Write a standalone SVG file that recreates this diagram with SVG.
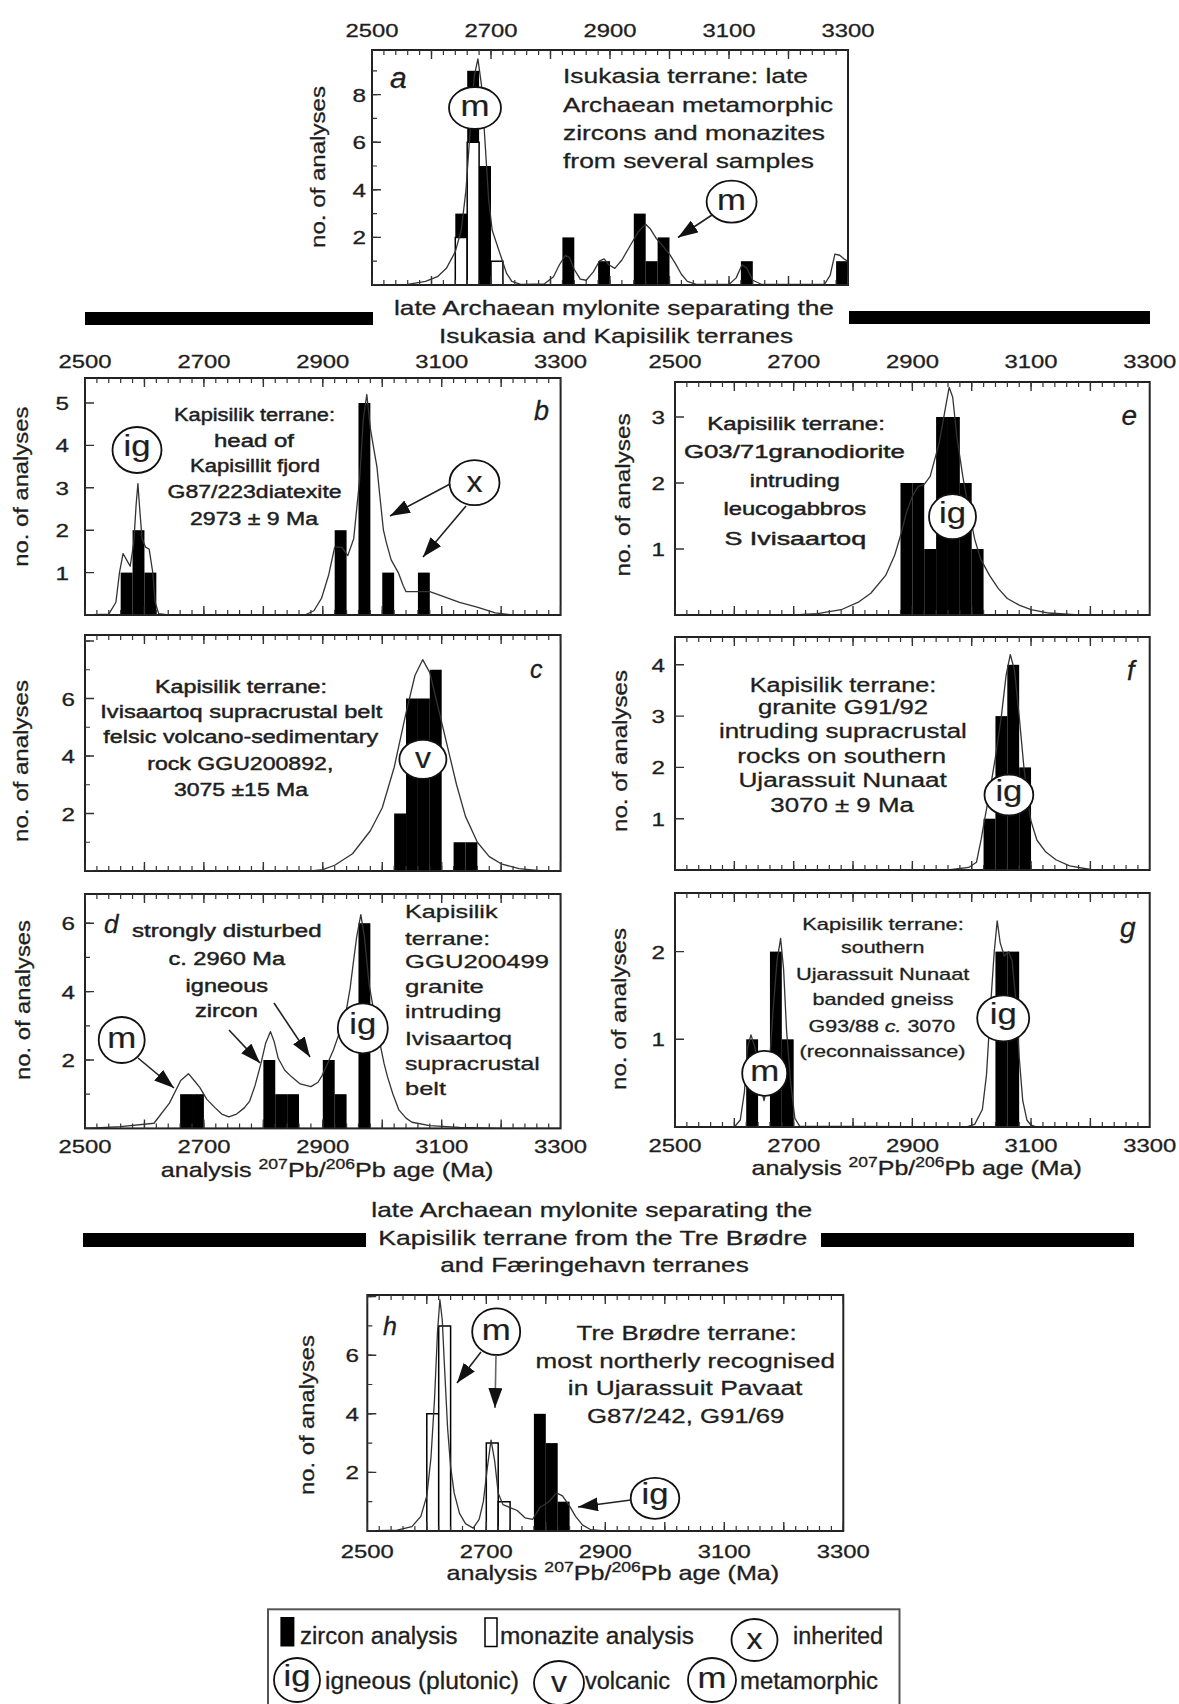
<svg xmlns="http://www.w3.org/2000/svg" width="1179" height="1704" viewBox="0 0 1179 1704">
<style>
.t{font-family:"Liberation Sans",Arial,Helvetica,sans-serif;fill:#1e1e1e;stroke:#1e1e1e;stroke-width:0.3px}
.tk{font-size:19px}
.lb{font-size:18px;stroke-width:0.45px}
.it{font-style:italic}
.fr{fill:none;stroke:#222;stroke-width:2}
.mt{stroke:#333;fill:none}
.zb{fill:#000}
.mb{fill:#fff;stroke:#000;stroke-width:1.5px;vector-effect:non-scaling-stroke}
.cv{fill:none;stroke:#333;stroke-width:1.3px;vector-effect:non-scaling-stroke;stroke-linejoin:round}
.ci{fill:#fff;stroke:#111;stroke-width:1.8}
.cl{font-size:30px;stroke-width:0.2px}
.ar{stroke:#222;stroke-width:1.6;fill:none;marker-end:url(#ah)}
.band{fill:#000}
</style>
<defs>
<marker id="ah" markerWidth="20" markerHeight="14" refX="20" refY="7" orient="auto" markerUnits="userSpaceOnUse"><path d="M0,0 L20,7 L0,14 z" fill="#111"/></marker>
</defs>
<rect width="1179" height="1704" fill="#fff"/>

<!-- ===== Panel a ===== -->
<g id="panel-a">
<g transform="translate(372,285) scale(0.595,-23.8)">
<rect class="mb" x="140" y="0" width="20" height="2"/><rect class="mb" x="160" y="0" width="20" height="6"/><rect class="mb" x="200" y="0" width="20" height="1"/>
<rect class="zb" x="140" y="2" width="20" height="1"/><rect class="zb" x="160" y="6" width="20" height="3"/><rect class="zb" x="180" y="0" width="20" height="5"/>
<rect class="zb" x="320" y="0" width="20" height="2"/><rect class="zb" x="380" y="0" width="20" height="1"/><rect class="zb" x="440" y="0" width="20" height="3"/><rect class="zb" x="460" y="0" width="20" height="1"/><rect class="zb" x="480" y="0" width="20" height="2"/><rect class="zb" x="620" y="0" width="20" height="1"/><rect class="zb" x="780" y="0" width="20" height="1"/>
<polyline class="cv" points="0,0 60,0.03 90,0.15 110,0.35 125,0.7 140,1.4 150,2.3 158,4 165,6.5 172,8.8 178,9.5 184,8.4 190,6 196,3.6 202,2.3 210,1.7 218,1.1 226,0.5 235,0.15 250,0.03 290,0.05 305,0.35 315,0.85 325,1.25 332,1.15 340,0.65 350,0.25 360,0.2 372,0.55 382,1 390,1.1 398,0.85 408,0.7 420,1.05 435,1.7 448,2.25 460,2.55 468,2.35 478,1.95 490,1.6 500,1.3 510,0.9 520,0.45 530,0.15 545,0.03 600,0.02 612,0.3 622,0.85 630,0.7 640,0.2 655,0.02 760,0.02 770,0.4 778,1.3 786,1.25 793,1.1 800,1"/>
</g>
<rect class="fr" x="372" y="50" width="476" height="235"/>
<line class="mt" x1="372" y1="52.5" x2="848" y2="52.5" stroke-width="5" stroke-dasharray="1.2 10.7" stroke-dashoffset="0.6"/>
<line class="mt" x1="372" y1="54.5" x2="848" y2="54.5" stroke-width="9" stroke-dasharray="1.4 58.1" stroke-dashoffset="0.7"/>
<line class="mt" x1="372" y1="282.5" x2="848" y2="282.5" stroke-width="5" stroke-dasharray="1.2 10.7" stroke-dashoffset="0.6"/>
<line class="mt" x1="372" y1="280.5" x2="848" y2="280.5" stroke-width="9" stroke-dasharray="1.4 58.1" stroke-dashoffset="0.7"/>
<line class="mt" x1="374.5" y1="285" x2="374.5" y2="50" stroke-width="5" stroke-dasharray="1.2 22.6" stroke-dashoffset="0.6"/>
<line class="mt" x1="376.5" y1="285" x2="376.5" y2="50" stroke-width="9" stroke-dasharray="1.4 46.2" stroke-dashoffset="0.7"/>
<g class="t tk">
<text x="345.5" y="37" textLength="53" lengthAdjust="spacingAndGlyphs">2500</text>
<text x="464.5" y="37" textLength="53" lengthAdjust="spacingAndGlyphs">2700</text>
<text x="583.5" y="37" textLength="53" lengthAdjust="spacingAndGlyphs">2900</text>
<text x="702.5" y="37" textLength="53" lengthAdjust="spacingAndGlyphs">3100</text>
<text x="821.5" y="37" textLength="53" lengthAdjust="spacingAndGlyphs">3300</text>
<text x="352.5" y="244.4" textLength="13.5" lengthAdjust="spacingAndGlyphs">2</text>
<text x="352.5" y="196.8" textLength="13.5" lengthAdjust="spacingAndGlyphs">4</text>
<text x="352.5" y="149.2" textLength="13.5" lengthAdjust="spacingAndGlyphs">6</text>
<text x="352.5" y="101.6" textLength="13.5" lengthAdjust="spacingAndGlyphs">8</text>
</g>
<text class="t" font-size="21" transform="translate(325,167) rotate(-90)" x="-81" textLength="162" lengthAdjust="spacingAndGlyphs">no. of analyses</text>
<text class="t it" font-size="30" x="390" y="88">a</text>
<g class="t" font-size="21">
<text x="563" y="83" textLength="245" lengthAdjust="spacingAndGlyphs">Isukasia terrane: late</text>
<text x="563" y="111.7" textLength="270" lengthAdjust="spacingAndGlyphs">Archaean metamorphic</text>
<text x="563" y="140" textLength="262" lengthAdjust="spacingAndGlyphs">zircons and monazites</text>
<text x="563" y="168.3" textLength="251" lengthAdjust="spacingAndGlyphs">from several samples</text>
</g>
<g id="a-m1"><ellipse class="ci" cx="475" cy="108" rx="26" ry="21"/><text class="t cl" x="460.5" y="116" textLength="29" lengthAdjust="spacingAndGlyphs">m</text></g>
<g id="a-m2"><ellipse class="ci" cx="731.6" cy="201.7" rx="25" ry="21"/><text class="t cl" x="717.1" y="209.7" textLength="29" lengthAdjust="spacingAndGlyphs">m</text></g>
</g>

<!-- ===== Mylonite band 1 ===== -->
<g id="mylonite-1">
<rect class="band" x="85" y="312" width="288" height="13"/>
<rect class="band" x="849" y="311" width="301" height="13"/>
<text class="t" font-size="21" x="394" y="315" textLength="440" lengthAdjust="spacingAndGlyphs">late Archaean mylonite separating the</text>
<text class="t" font-size="21" x="439" y="343" textLength="354" lengthAdjust="spacingAndGlyphs">Isukasia and Kapisilik terranes</text>
</g>

<!-- ===== Panel b ===== -->
<g id="panel-b">
<g transform="translate(85,615) scale(0.5945,-42.4)">
<rect class="zb" x="60" y="0" width="20" height="1"/><rect class="zb" x="80" y="0" width="20" height="2"/><rect class="zb" x="100" y="0" width="20" height="1"/>
<rect class="zb" x="420" y="0" width="20" height="2"/><rect class="zb" x="460" y="0" width="20" height="5"/><rect class="zb" x="500" y="0" width="20" height="1"/><rect class="zb" x="560" y="0" width="20" height="1"/>
<polyline class="cv" points="0,0 40,0.02 52,0.3 58,1 64,1.45 70,1.3 76,1.15 82,1.7 86,2.6 89,3.1 92,2.5 96,1.8 102,1.6 108,1.55 114,1 118,0.3 124,0.03 140,0 370,0 385,0.1 398,0.4 410,0.95 420,1.6 432,1.6 442,1.4 452,1.8 462,3.2 468,4.6 474,5.2 480,4.4 486,3.9 491,3.5 496,2.8 502,2 507,1.7 515,1.3 527,1 535,0.7 540,0.55 580,0.55 600,0.45 630,0.3 661,0.18 690,0.05 720,0 800,0"/>
</g>
<rect class="fr" x="85" y="378" width="475.6" height="237"/>
<line class="mt" x1="85" y1="380.5" x2="560.6" y2="380.5" stroke-width="5" stroke-dasharray="1.2 10.69" stroke-dashoffset="0.6"/>
<line class="mt" x1="85" y1="382.5" x2="560.6" y2="382.5" stroke-width="9" stroke-dasharray="1.4 58.05" stroke-dashoffset="0.7"/>
<line class="mt" x1="85" y1="612.5" x2="560.6" y2="612.5" stroke-width="5" stroke-dasharray="1.2 10.69" stroke-dashoffset="0.6"/>
<line class="mt" x1="85" y1="610.5" x2="560.6" y2="610.5" stroke-width="9" stroke-dasharray="1.4 58.05" stroke-dashoffset="0.7"/>
<line class="mt" x1="89.5" y1="615" x2="89.5" y2="378" stroke-width="9" stroke-dasharray="1.4 41" stroke-dashoffset="0.7"/>
<g class="t tk">
<text x="58.5" y="368" textLength="53" lengthAdjust="spacingAndGlyphs">2500</text>
<text x="177.4" y="368" textLength="53" lengthAdjust="spacingAndGlyphs">2700</text>
<text x="296.3" y="368" textLength="53" lengthAdjust="spacingAndGlyphs">2900</text>
<text x="415.2" y="368" textLength="53" lengthAdjust="spacingAndGlyphs">3100</text>
<text x="534.1" y="368" textLength="53" lengthAdjust="spacingAndGlyphs">3300</text>
<text x="55.5" y="579.6" textLength="13.5" lengthAdjust="spacingAndGlyphs">1</text>
<text x="55.5" y="537.2" textLength="13.5" lengthAdjust="spacingAndGlyphs">2</text>
<text x="55.5" y="494.8" textLength="13.5" lengthAdjust="spacingAndGlyphs">3</text>
<text x="55.5" y="452.4" textLength="13.5" lengthAdjust="spacingAndGlyphs">4</text>
<text x="55.5" y="410" textLength="13.5" lengthAdjust="spacingAndGlyphs">5</text>
</g>
<text class="t" font-size="21" transform="translate(27.5,486.7) rotate(-90)" x="-80" textLength="160" lengthAdjust="spacingAndGlyphs">no. of analyses</text>
<text class="t it" font-size="27" x="534" y="420">b</text>
<g class="t lb">
<text x="174" y="420.7" textLength="161" lengthAdjust="spacingAndGlyphs">Kapisilik terrane:</text>
<text x="214" y="446.7" textLength="80" lengthAdjust="spacingAndGlyphs">head of</text>
<text x="190" y="472" textLength="130" lengthAdjust="spacingAndGlyphs">Kapisillit fjord</text>
<text x="167.6" y="498.3" textLength="174" lengthAdjust="spacingAndGlyphs">G87/223diatexite</text>
<text x="190" y="525" textLength="128" lengthAdjust="spacingAndGlyphs">2973 ± 9 Ma</text>
</g>
<g id="b-ig"><ellipse class="ci" cx="137" cy="450" rx="24.5" ry="23"/><text class="t cl" x="123.5" y="456" textLength="27" lengthAdjust="spacingAndGlyphs">ig</text></g>
<g id="b-x"><ellipse class="ci" cx="474.5" cy="482.7" rx="25" ry="22.5"/><text class="t cl" x="466.5" y="491.7" textLength="16" lengthAdjust="spacingAndGlyphs">x</text></g>
</g>

<!-- ===== Panel c ===== -->
<g id="panel-c">
<g transform="translate(85,871) scale(0.5945,-28.75)">
<rect class="zb" x="520" y="0" width="20" height="2"/><rect class="zb" x="540" y="0" width="20" height="6"/><rect class="zb" x="560" y="0" width="20" height="6"/><rect class="zb" x="580" y="0" width="20" height="7"/><rect class="zb" x="620" y="0" width="20" height="1"/><rect class="zb" x="640" y="0" width="20" height="1"/>
<polyline class="cv" points="0,0 380,0 400,0.05 420,0.2 450,0.6 480,1.4 500,2.2 520,3.6 540,5.5 555,6.8 568,7.35 580,6.9 595,5.6 610,4.3 625,3 640,1.9 660,1 680,0.5 700,0.25 730,0.08 770,0 800,0"/>
</g>
<rect class="fr" x="85" y="635" width="475.6" height="236"/>
<line class="mt" x1="85" y1="637.5" x2="560.6" y2="637.5" stroke-width="5" stroke-dasharray="1.2 10.69" stroke-dashoffset="0.6"/>
<line class="mt" x1="85" y1="639.5" x2="560.6" y2="639.5" stroke-width="9" stroke-dasharray="1.4 58.05" stroke-dashoffset="0.7"/>
<line class="mt" x1="85" y1="868.5" x2="560.6" y2="868.5" stroke-width="5" stroke-dasharray="1.2 10.69" stroke-dashoffset="0.6"/>
<line class="mt" x1="85" y1="866.5" x2="560.6" y2="866.5" stroke-width="9" stroke-dasharray="1.4 58.05" stroke-dashoffset="0.7"/>
<line class="mt" x1="87.5" y1="871" x2="87.5" y2="635" stroke-width="5" stroke-dasharray="1.2 27.55" stroke-dashoffset="0.6"/>
<line class="mt" x1="89.5" y1="871" x2="89.5" y2="635" stroke-width="9" stroke-dasharray="1.4 56.1" stroke-dashoffset="0.7"/>
<g class="t tk">
<text x="61.5" y="820.5" textLength="13.5" lengthAdjust="spacingAndGlyphs">2</text>
<text x="61.5" y="763" textLength="13.5" lengthAdjust="spacingAndGlyphs">4</text>
<text x="61.5" y="705.5" textLength="13.5" lengthAdjust="spacingAndGlyphs">6</text>
</g>
<text class="t" font-size="21" transform="translate(27.5,761) rotate(-90)" x="-81" textLength="162" lengthAdjust="spacingAndGlyphs">no. of analyses</text>
<text class="t it" font-size="25" x="530" y="678">c</text>
<g class="t lb">
<text x="155" y="693.3" textLength="172" lengthAdjust="spacingAndGlyphs">Kapisilik terrane:</text>
<text x="100.3" y="718.3" textLength="282" lengthAdjust="spacingAndGlyphs">Ivisaartoq supracrustal belt</text>
<text x="103.3" y="742.7" textLength="275" lengthAdjust="spacingAndGlyphs">felsic volcano-sedimentary</text>
<text x="147.3" y="769.7" textLength="186" lengthAdjust="spacingAndGlyphs">rock GGU200892,</text>
<text x="174" y="796" textLength="134" lengthAdjust="spacingAndGlyphs">3075 ±15 Ma</text>
</g>
<g id="c-v"><ellipse class="ci" cx="422.9" cy="759.3" rx="23.5" ry="19.5"/><text class="t cl" x="414.9" y="767.8" textLength="16" lengthAdjust="spacingAndGlyphs">v</text></g>
</g>

<!-- ===== Panel d ===== -->
<g id="panel-d">
<g transform="translate(85,1128.4) scale(0.5945,-34.2)">
<rect class="zb" x="160" y="0" width="20" height="1"/><rect class="zb" x="180" y="0" width="20" height="1"/><rect class="zb" x="300" y="0" width="20" height="2"/><rect class="zb" x="320" y="0" width="20" height="1"/><rect class="zb" x="340" y="0" width="20" height="1"/><rect class="zb" x="400" y="0" width="20" height="2"/><rect class="zb" x="420" y="0" width="20" height="1"/><rect class="zb" x="460" y="0" width="20" height="6"/>
<polyline class="cv" points="0,0 60,0.05 116,0.15 142,0.74 161,1.4 174,1.6 186,1.35 193,1.2 205,0.85 219,0.6 230,0.42 242,0.34 255,0.42 268,0.6 277,0.8 286,1.25 296,1.9 304,2.5 312,2.83 318,2.55 325,2.05 336,1.7 348,1.5 362,1.3 380,1.22 392,1.35 399,1.55 408,1.9 418,2.3 428,2.8 438,3.3 446,4.1 451,4.8 457,5.6 464,6.25 470,5.6 478,4.2 488,3.2 496,2.5 503,1.9 509,1.5 518,1 528,0.54 540,0.3 550,0.18 580,0.08 630,0.03 700,0 800,0"/>
</g>
<rect class="fr" x="85" y="894" width="475.6" height="234.4"/>
<line class="mt" x1="85" y1="896.5" x2="560.6" y2="896.5" stroke-width="5" stroke-dasharray="1.2 10.69" stroke-dashoffset="0.6"/>
<line class="mt" x1="85" y1="898.5" x2="560.6" y2="898.5" stroke-width="9" stroke-dasharray="1.4 58.05" stroke-dashoffset="0.7"/>
<line class="mt" x1="85" y1="1125.9" x2="560.6" y2="1125.9" stroke-width="5" stroke-dasharray="1.2 10.69" stroke-dashoffset="0.6"/>
<line class="mt" x1="85" y1="1123.9" x2="560.6" y2="1123.9" stroke-width="9" stroke-dasharray="1.4 58.05" stroke-dashoffset="0.7"/>
<line class="mt" x1="87.5" y1="1128.4" x2="87.5" y2="894" stroke-width="5" stroke-dasharray="1.2 33" stroke-dashoffset="0.6"/>
<line class="mt" x1="89.5" y1="1128.4" x2="89.5" y2="894" stroke-width="9" stroke-dasharray="1.4 67" stroke-dashoffset="0.7"/>
<g class="t tk">
<text x="58.5" y="1153" textLength="53" lengthAdjust="spacingAndGlyphs">2500</text>
<text x="177.4" y="1153" textLength="53" lengthAdjust="spacingAndGlyphs">2700</text>
<text x="296.3" y="1153" textLength="53" lengthAdjust="spacingAndGlyphs">2900</text>
<text x="415.2" y="1153" textLength="53" lengthAdjust="spacingAndGlyphs">3100</text>
<text x="534.1" y="1153" textLength="53" lengthAdjust="spacingAndGlyphs">3300</text>
<text x="61.5" y="1067" textLength="13.5" lengthAdjust="spacingAndGlyphs">2</text>
<text x="61.5" y="998.6" textLength="13.5" lengthAdjust="spacingAndGlyphs">4</text>
<text x="61.5" y="930.2" textLength="13.5" lengthAdjust="spacingAndGlyphs">6</text>
</g>
<text class="t" font-size="20" transform="translate(160.7,1176.7) scale(1.258,1)">analysis <tspan font-size="14" dy="-8">207</tspan><tspan dy="8">Pb/</tspan><tspan font-size="14" dy="-8">206</tspan><tspan dy="8">Pb age (Ma)</tspan></text>
<text class="t" font-size="21" transform="translate(30,1000) rotate(-90)" x="-80" textLength="160" lengthAdjust="spacingAndGlyphs">no. of analyses</text>
<text class="t it" font-size="26" x="104" y="933">d</text>
<g class="t lb">
<text x="132" y="936.7" textLength="189.5" lengthAdjust="spacingAndGlyphs">strongly disturbed</text>
<text x="168.4" y="965" textLength="116.7" lengthAdjust="spacingAndGlyphs">c. 2960 Ma</text>
<text x="185.6" y="991.7" textLength="82.4" lengthAdjust="spacingAndGlyphs">igneous</text>
<text x="195" y="1016.7" textLength="63" lengthAdjust="spacingAndGlyphs">zircon</text>
</g>
<g class="t" font-size="19">
<text x="405" y="918.3" textLength="92.6" lengthAdjust="spacingAndGlyphs">Kapisilik</text>
<text x="405" y="945" textLength="85" lengthAdjust="spacingAndGlyphs">terrane:</text>
<text x="405" y="968.3" textLength="144" lengthAdjust="spacingAndGlyphs">GGU200499</text>
<text x="405" y="993.3" textLength="79" lengthAdjust="spacingAndGlyphs">granite</text>
<text x="405" y="1018.3" textLength="96.4" lengthAdjust="spacingAndGlyphs">intruding</text>
<text x="405" y="1045" textLength="107" lengthAdjust="spacingAndGlyphs">Ivisaartoq</text>
<text x="405" y="1070" textLength="134.7" lengthAdjust="spacingAndGlyphs">supracrustal</text>
<text x="405" y="1095" textLength="41" lengthAdjust="spacingAndGlyphs">belt</text>
</g>
<g id="d-m"><ellipse class="ci" cx="121.7" cy="1040" rx="23" ry="23"/><text class="t cl" x="107.2" y="1048" textLength="29" lengthAdjust="spacingAndGlyphs">m</text></g>
<g id="d-ig"><ellipse class="ci" cx="362.8" cy="1028.3" rx="25" ry="25"/><text class="t cl" x="349.3" y="1034.3" textLength="27" lengthAdjust="spacingAndGlyphs">ig</text></g>
</g>

<!-- ===== Panel e ===== -->
<g id="panel-e">
<g transform="translate(675,615) scale(0.5934,-66)">
<rect class="zb" x="380" y="0" width="20" height="2"/><rect class="zb" x="400" y="0" width="20" height="2"/><rect class="zb" x="420" y="0" width="20" height="1"/><rect class="zb" x="440" y="0" width="20" height="3"/><rect class="zb" x="460" y="0" width="20" height="3"/><rect class="zb" x="480" y="0" width="20" height="2"/><rect class="zb" x="500" y="0" width="20" height="1"/>
<polyline class="cv" points="0,0 200,0 240,0.02 280,0.08 310,0.2 330,0.33 355,0.6 370,0.9 380,1.2 390,1.55 400,1.8 410,1.95 420,1.98 430,2.1 445,2.6 455,3.1 462,3.45 468,3.3 475,2.7 485,2.1 495,1.6 505,1.15 515,0.85 530,0.6 545,0.4 560,0.25 580,0.15 600,0.08 630,0.03 680,0 800,0"/>
</g>
<rect class="fr" x="675" y="382" width="474.7" height="233"/>
<line class="mt" x1="675" y1="384.5" x2="1149.7" y2="384.5" stroke-width="5" stroke-dasharray="1.2 10.67" stroke-dashoffset="0.6"/>
<line class="mt" x1="675" y1="386.5" x2="1149.7" y2="386.5" stroke-width="9" stroke-dasharray="1.4 57.94" stroke-dashoffset="0.7"/>
<line class="mt" x1="675" y1="612.5" x2="1149.7" y2="612.5" stroke-width="5" stroke-dasharray="1.2 10.67" stroke-dashoffset="0.6"/>
<line class="mt" x1="675" y1="610.5" x2="1149.7" y2="610.5" stroke-width="9" stroke-dasharray="1.4 57.94" stroke-dashoffset="0.7"/>
<line class="mt" x1="679.5" y1="615" x2="679.5" y2="382" stroke-width="9" stroke-dasharray="1.4 64.6" stroke-dashoffset="0.7"/>
<g class="t tk">
<text x="648.5" y="368" textLength="53" lengthAdjust="spacingAndGlyphs">2500</text>
<text x="767.2" y="368" textLength="53" lengthAdjust="spacingAndGlyphs">2700</text>
<text x="885.9" y="368" textLength="53" lengthAdjust="spacingAndGlyphs">2900</text>
<text x="1004.5" y="368" textLength="53" lengthAdjust="spacingAndGlyphs">3100</text>
<text x="1123.2" y="368" textLength="53" lengthAdjust="spacingAndGlyphs">3300</text>
<text x="651.5" y="556" textLength="13.5" lengthAdjust="spacingAndGlyphs">1</text>
<text x="651.5" y="490" textLength="13.5" lengthAdjust="spacingAndGlyphs">2</text>
<text x="651.5" y="424" textLength="13.5" lengthAdjust="spacingAndGlyphs">3</text>
</g>
<text class="t" font-size="21" transform="translate(630,495) rotate(-90)" x="-81.5" textLength="163" lengthAdjust="spacingAndGlyphs">no. of analyses</text>
<text class="t it" font-size="28" x="1121.5" y="425">e</text>
<g class="t lb">
<text x="707.2" y="430" textLength="177.7" lengthAdjust="spacingAndGlyphs">Kapisilik terrane:</text>
<text x="683.9" y="458.3" textLength="221" lengthAdjust="spacingAndGlyphs">G03/71granodiorite</text>
<text x="749.7" y="486.7" textLength="90" lengthAdjust="spacingAndGlyphs">intruding</text>
<text x="723.4" y="515" textLength="142.7" lengthAdjust="spacingAndGlyphs">leucogabbros</text>
<text x="724.5" y="545" textLength="141.6" lengthAdjust="spacingAndGlyphs">S Ivisaartoq</text>
</g>
<g id="e-ig"><ellipse class="ci" cx="952.5" cy="516.7" rx="23.5" ry="22.5"/><text class="t cl" x="939" y="522.7" textLength="27" lengthAdjust="spacingAndGlyphs">ig</text></g>
</g>

<!-- ===== Panel f ===== -->
<g id="panel-f">
<g transform="translate(675,870) scale(0.5934,-51.3)">
<rect class="zb" x="520" y="0" width="20" height="1"/><rect class="zb" x="540" y="0" width="20" height="3"/><rect class="zb" x="560" y="0" width="20" height="4"/><rect class="zb" x="580" y="0" width="20" height="2"/>
<polyline class="cv" points="0,0 460,0 495,0.05 508,0.15 516,0.6 522,1 530,1.5 540,2.2 550,3 558,3.8 565,4.2 572,3.9 580,3 588,2 595,1.3 600,0.95 610,0.58 625,0.35 642,0.2 665,0.08 700,0.01 800,0"/>
</g>
<rect class="fr" x="675" y="637" width="474.7" height="233"/>
<line class="mt" x1="675" y1="639.5" x2="1149.7" y2="639.5" stroke-width="5" stroke-dasharray="1.2 10.67" stroke-dashoffset="0.6"/>
<line class="mt" x1="675" y1="641.5" x2="1149.7" y2="641.5" stroke-width="9" stroke-dasharray="1.4 57.94" stroke-dashoffset="0.7"/>
<line class="mt" x1="675" y1="867.5" x2="1149.7" y2="867.5" stroke-width="5" stroke-dasharray="1.2 10.67" stroke-dashoffset="0.6"/>
<line class="mt" x1="675" y1="865.5" x2="1149.7" y2="865.5" stroke-width="9" stroke-dasharray="1.4 57.94" stroke-dashoffset="0.7"/>
<line class="mt" x1="679.5" y1="870" x2="679.5" y2="637" stroke-width="9" stroke-dasharray="1.4 49.9" stroke-dashoffset="0.7"/>
<g class="t tk">
<text x="651.5" y="825.7" textLength="13.5" lengthAdjust="spacingAndGlyphs">1</text>
<text x="651.5" y="774.4" textLength="13.5" lengthAdjust="spacingAndGlyphs">2</text>
<text x="651.5" y="723.1" textLength="13.5" lengthAdjust="spacingAndGlyphs">3</text>
<text x="651.5" y="671.8" textLength="13.5" lengthAdjust="spacingAndGlyphs">4</text>
</g>
<text class="t" font-size="21" transform="translate(627,751) rotate(-90)" x="-81" textLength="162" lengthAdjust="spacingAndGlyphs">no. of analyses</text>
<text class="t it" font-size="27" x="1127" y="680">f</text>
<g class="t" font-size="20">
<text x="749.7" y="691.7" textLength="186.7" lengthAdjust="spacingAndGlyphs">Kapisilik terrane:</text>
<text x="758" y="713.8" textLength="170" lengthAdjust="spacingAndGlyphs">granite G91/92</text>
<text x="718.9" y="738.3" textLength="248" lengthAdjust="spacingAndGlyphs">intruding supracrustal</text>
<text x="737.3" y="763.3" textLength="208.7" lengthAdjust="spacingAndGlyphs">rocks on southern</text>
<text x="738.4" y="786.7" textLength="208.5" lengthAdjust="spacingAndGlyphs">Ujarassuit Nunaat</text>
<text x="770.3" y="811.7" textLength="143.5" lengthAdjust="spacingAndGlyphs">3070 ± 9 Ma</text>
</g>
<g id="f-ig"><ellipse class="ci" cx="1008.9" cy="795" rx="24.4" ry="20.5"/><text class="t cl" x="995.4" y="801" textLength="27" lengthAdjust="spacingAndGlyphs">ig</text></g>
</g>

<!-- ===== Panel g ===== -->
<g id="panel-g">
<g transform="translate(675,1127) scale(0.5934,-87.7)">
<rect class="zb" x="120" y="0" width="20" height="1"/><rect class="zb" x="160" y="0" width="20" height="2"/><rect class="zb" x="180" y="0" width="20" height="1"/><rect class="zb" x="540" y="0" width="20" height="2"/><rect class="zb" x="560" y="0" width="20" height="2"/>
<polyline class="cv" points="0,0 100,0 110,0.08 117,0.4 122,0.9 128,1.05 135,0.9 143,0.5 150,0.3 157,0.5 165,1.3 172,1.9 178,2.15 183,1.8 188,1.1 195,0.5 202,0.1 210,0.01 490,0 505,0.03 518,0.2 525,0.6 532,1.4 538,2 543,2.35 548,2.1 555,1.95 562,2 568,1.9 575,1.4 580,0.8 586,0.3 593,0.08 600,0.02 610,0 800,0"/>
</g>
<rect class="fr" x="675" y="893" width="474.7" height="234"/>
<line class="mt" x1="675" y1="895.5" x2="1149.7" y2="895.5" stroke-width="5" stroke-dasharray="1.2 10.67" stroke-dashoffset="0.6"/>
<line class="mt" x1="675" y1="897.5" x2="1149.7" y2="897.5" stroke-width="9" stroke-dasharray="1.4 57.94" stroke-dashoffset="0.7"/>
<line class="mt" x1="675" y1="1124.5" x2="1149.7" y2="1124.5" stroke-width="5" stroke-dasharray="1.2 10.67" stroke-dashoffset="0.6"/>
<line class="mt" x1="675" y1="1122.5" x2="1149.7" y2="1122.5" stroke-width="9" stroke-dasharray="1.4 57.94" stroke-dashoffset="0.7"/>
<line class="mt" x1="679.5" y1="1127" x2="679.5" y2="893" stroke-width="9" stroke-dasharray="1.4 86.3" stroke-dashoffset="0.7"/>
<g class="t tk">
<text x="648.5" y="1152" textLength="53" lengthAdjust="spacingAndGlyphs">2500</text>
<text x="767.2" y="1152" textLength="53" lengthAdjust="spacingAndGlyphs">2700</text>
<text x="885.9" y="1152" textLength="53" lengthAdjust="spacingAndGlyphs">2900</text>
<text x="1004.5" y="1152" textLength="53" lengthAdjust="spacingAndGlyphs">3100</text>
<text x="1123.2" y="1152" textLength="53" lengthAdjust="spacingAndGlyphs">3300</text>
<text x="651.5" y="1046.3" textLength="13.5" lengthAdjust="spacingAndGlyphs">1</text>
<text x="651.5" y="958.6" textLength="13.5" lengthAdjust="spacingAndGlyphs">2</text>
</g>
<text class="t" font-size="20" transform="translate(751.5,1175) scale(1.249,1)">analysis <tspan font-size="14" dy="-8">207</tspan><tspan dy="8">Pb/</tspan><tspan font-size="14" dy="-8">206</tspan><tspan dy="8">Pb age (Ma)</tspan></text>
<text class="t" font-size="21" transform="translate(626,1009) rotate(-90)" x="-81" textLength="162" lengthAdjust="spacingAndGlyphs">no. of analyses</text>
<text class="t it" font-size="28" x="1120" y="937">g</text>
<g class="t" font-size="17">
<text x="802.3" y="930" textLength="161.5" lengthAdjust="spacingAndGlyphs">Kapisilik terrane:</text>
<text x="841" y="953.3" textLength="83.4" lengthAdjust="spacingAndGlyphs">southern</text>
<text x="795.9" y="980" textLength="173.5" lengthAdjust="spacingAndGlyphs">Ujarassuit Nunaat</text>
<text x="812.4" y="1005" textLength="141.2" lengthAdjust="spacingAndGlyphs">banded gneiss</text>
<text x="808.6" y="1031.7" textLength="146.5" lengthAdjust="spacingAndGlyphs">G93/88 <tspan font-style="italic">c.</tspan> 3070</text>
<text x="799.6" y="1056.7" textLength="166" lengthAdjust="spacingAndGlyphs">(reconnaissance)</text>
</g>
<g id="g-m"><ellipse class="ci" cx="764.7" cy="1073.3" rx="22.5" ry="22.5"/><text class="t cl" x="750.2" y="1081.3" textLength="29" lengthAdjust="spacingAndGlyphs">m</text></g>
<g id="g-ig"><ellipse class="ci" cx="1003.2" cy="1018.3" rx="26" ry="23"/><text class="t cl" x="989.7" y="1024.3" textLength="27" lengthAdjust="spacingAndGlyphs">ig</text></g>
</g>

<!-- ===== Mylonite band 2 ===== -->
<g id="mylonite-2">
<rect class="band" x="83" y="1233" width="283" height="14"/>
<rect class="band" x="821" y="1233" width="313" height="14"/>
<text class="t" font-size="21" x="371.3" y="1216.7" textLength="441" lengthAdjust="spacingAndGlyphs">late Archaean mylonite separating the</text>
<text class="t" font-size="21" x="378.2" y="1245" textLength="429" lengthAdjust="spacingAndGlyphs">Kapisilik terrane from the Tre Brødre</text>
<text class="t" font-size="21" x="440.2" y="1271.7" textLength="308.6" lengthAdjust="spacingAndGlyphs">and Færingehavn terranes</text>
</g>

<!-- ===== Panel h ===== -->
<g id="panel-h">
<g transform="translate(367.3,1531) scale(0.595,-29.3)">
<rect class="mb" x="100" y="0" width="20" height="4"/><rect class="mb" x="120" y="0" width="20" height="7"/><rect class="mb" x="200" y="0" width="20" height="3"/><rect class="mb" x="220" y="0" width="20" height="1"/>
<rect class="zb" x="280" y="0" width="20" height="4"/><rect class="zb" x="300" y="0" width="20" height="3"/><rect class="zb" x="320" y="0" width="20" height="1"/>
<polyline class="cv" points="0,0 50,0.03 75,0.15 90,0.5 100,1.2 107,2.5 113,4.5 118,6.8 122,7.9 126,7.2 130,5.5 135,3.5 140,2.2 146,1.3 155,0.6 165,0.25 178,0.1 188,0.4 195,1 202,2.2 208,3.1 214,2.4 220,1.3 228,0.9 240,0.8 252,0.7 265,0.45 278,0.4 290,0.8 305,1 318,1.3 328,1.2 340,0.85 350,0.5 362,0.2 375,0.05 400,0 800,0"/>
</g>
<rect class="fr" x="367.3" y="1295" width="476" height="236"/>
<line class="mt" x1="367.3" y1="1297.5" x2="843.3" y2="1297.5" stroke-width="5" stroke-dasharray="1.2 10.7" stroke-dashoffset="0.6"/>
<line class="mt" x1="367.3" y1="1299.5" x2="843.3" y2="1299.5" stroke-width="9" stroke-dasharray="1.4 58.1" stroke-dashoffset="0.7"/>
<line class="mt" x1="367.3" y1="1528.5" x2="843.3" y2="1528.5" stroke-width="5" stroke-dasharray="1.2 10.7" stroke-dashoffset="0.6"/>
<line class="mt" x1="367.3" y1="1526.5" x2="843.3" y2="1526.5" stroke-width="9" stroke-dasharray="1.4 58.1" stroke-dashoffset="0.7"/>
<line class="mt" x1="369.8" y1="1531" x2="369.8" y2="1295" stroke-width="5" stroke-dasharray="1.2 28.1" stroke-dashoffset="0.6"/>
<line class="mt" x1="371.8" y1="1531" x2="371.8" y2="1295" stroke-width="9" stroke-dasharray="1.4 57.2" stroke-dashoffset="0.7"/>
<g class="t tk">
<text x="340.8" y="1558" textLength="53" lengthAdjust="spacingAndGlyphs">2500</text>
<text x="459.8" y="1558" textLength="53" lengthAdjust="spacingAndGlyphs">2700</text>
<text x="578.8" y="1558" textLength="53" lengthAdjust="spacingAndGlyphs">2900</text>
<text x="697.8" y="1558" textLength="53" lengthAdjust="spacingAndGlyphs">3100</text>
<text x="816.8" y="1558" textLength="53" lengthAdjust="spacingAndGlyphs">3300</text>
<text x="345.5" y="1479.4" textLength="13.5" lengthAdjust="spacingAndGlyphs">2</text>
<text x="345.5" y="1420.8" textLength="13.5" lengthAdjust="spacingAndGlyphs">4</text>
<text x="345.5" y="1362.2" textLength="13.5" lengthAdjust="spacingAndGlyphs">6</text>
</g>
<text class="t" font-size="20" transform="translate(446.5,1580) scale(1.258,1)">analysis <tspan font-size="14" dy="-8">207</tspan><tspan dy="8">Pb/</tspan><tspan font-size="14" dy="-8">206</tspan><tspan dy="8">Pb age (Ma)</tspan></text>
<text class="t" font-size="21" transform="translate(313.5,1415) rotate(-90)" x="-80" textLength="160" lengthAdjust="spacingAndGlyphs">no. of analyses</text>
<text class="t it" font-size="25" x="383" y="1335">h</text>
<g class="t" font-size="21">
<text x="576.6" y="1340" textLength="220" lengthAdjust="spacingAndGlyphs">Tre Brødre terrane:</text>
<text x="535.6" y="1368.3" textLength="299.3" lengthAdjust="spacingAndGlyphs">most northerly recognised</text>
<text x="567.8" y="1395" textLength="234.6" lengthAdjust="spacingAndGlyphs">in Ujarassuit Pavaat</text>
<text x="586.9" y="1423.3" textLength="197.5" lengthAdjust="spacingAndGlyphs">G87/242, G91/69</text>
</g>
<g id="h-m"><ellipse class="ci" cx="496.2" cy="1331.7" rx="24" ry="23.3"/><text class="t cl" x="481.7" y="1339.7" textLength="29" lengthAdjust="spacingAndGlyphs">m</text></g>
<g id="h-ig"><ellipse class="ci" cx="655" cy="1498.3" rx="24.3" ry="20.5"/><text class="t cl" x="641.5" y="1504.3" textLength="27" lengthAdjust="spacingAndGlyphs">ig</text></g>
</g>

<!-- ===== Connectors (arrows) ===== -->
<g id="connectors">
<path class="ar" d="M712,215 L678,237.5"/>
<path class="ar" d="M450,484 L390,516"/>
<path class="ar" d="M466,506 L423,557"/>
<path class="ar" d="M138,1058 L174,1088"/>
<path class="ar" d="M229,1030 L260,1063"/>
<path class="ar" d="M274,1003 L310,1057"/>
<path class="ar" d="M481,1352 L457,1383"/>
<path class="ar" d="M496,1355 L495,1408" style="stroke:#666"/>
<path class="ar" d="M631,1500 L578,1507"/>
</g>

<!-- ===== Legend ===== -->
<g id="legend">
<rect x="268" y="1609.3" width="631.5" height="100" fill="#fff" stroke="#555" stroke-width="2"/>
<rect x="280.4" y="1617" width="14" height="29.5" fill="#000"/>
<rect x="485" y="1618" width="12" height="28.5" fill="#fff" stroke="#000" stroke-width="1.5"/>
<g class="t" font-size="23">
<text x="300" y="1644" textLength="157.6" lengthAdjust="spacingAndGlyphs">zircon analysis</text>
<text x="500" y="1644" textLength="194" lengthAdjust="spacingAndGlyphs">monazite analysis</text>
<text x="793" y="1644" textLength="90" lengthAdjust="spacingAndGlyphs">inherited</text>
<text x="325" y="1689" textLength="194" lengthAdjust="spacingAndGlyphs">igneous (plutonic)</text>
<text x="585" y="1689" textLength="85" lengthAdjust="spacingAndGlyphs">volcanic</text>
<text x="740" y="1689" textLength="138" lengthAdjust="spacingAndGlyphs">metamorphic</text>
</g>
<g id="legend-x"><ellipse class="ci" cx="754.5" cy="1640" rx="23" ry="21"/><text class="t cl" x="746.5" y="1649" textLength="16" lengthAdjust="spacingAndGlyphs">x</text></g>
<g id="legend-ig"><ellipse class="ci" cx="297" cy="1680" rx="23" ry="22"/><text class="t cl" x="283.5" y="1686" textLength="27" lengthAdjust="spacingAndGlyphs">ig</text></g>
<g id="legend-v"><ellipse class="ci" cx="559" cy="1683" rx="25" ry="22"/><text class="t cl" x="551" y="1692" textLength="16" lengthAdjust="spacingAndGlyphs">v</text></g>
<g id="legend-m"><ellipse class="ci" cx="712" cy="1680" rx="24" ry="22"/><text class="t cl" x="697.5" y="1688" textLength="29" lengthAdjust="spacingAndGlyphs">m</text></g>
</g>
</svg>
